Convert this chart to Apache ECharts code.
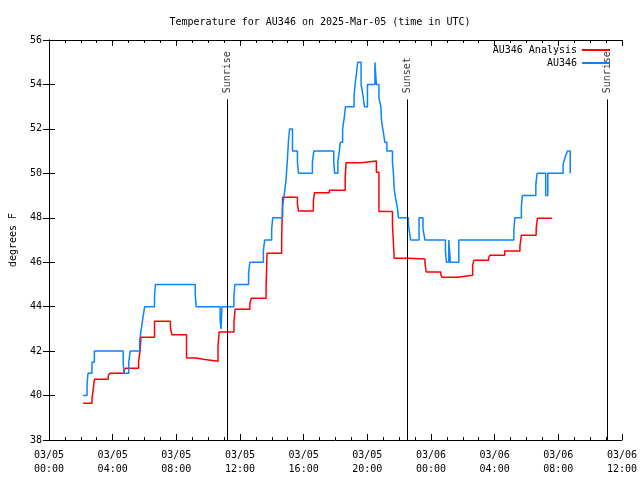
<!DOCTYPE html>
<html><head><meta charset="utf-8">
<script src="https://cdn.jsdelivr.net/npm/echarts@6/dist/echarts.min.js"></script>
<style>html,body{margin:0;padding:0;background:#fff}#c{width:640px;height:480px}</style>
</head><body><div id="c"></div>
<script>
const titleText = 'Temperature for AU346 on 2025-Mar-05 (time in UTC)';
const obsName = 'AU346';
const anaName = 'AU346 Analysis';
const yName = 'degrees F';
const xTickDays = ['03/05','03/05','03/05','03/05','03/05','03/05','03/06','03/06','03/06','03/06'];
const xTickHours = ['00:00','04:00','08:00','12:00','16:00','20:00','00:00','04:00','08:00','12:00'];

// hours since 03/05 00:00 UTC
const obsHours = [2.14,2.39,2.45,2.70,2.85,4.66,4.72,5.01,5.10,5.70,5.80,5.90,6.01,6.63,6.69,9.19,9.25,10.75,10.81,10.87,11.62,11.68,12.54,12.62,13.47,13.55,13.99,14.06,14.68,14.77,14.83,14.89,14.97,15.05,15.12,15.30,15.61,15.68,16.55,16.64,17.89,17.95,18.15,18.24,18.30,18.45,18.55,18.63,19.17,19.23,19.32,19.40,19.61,19.73,19.82,20.01,20.48,20.57,20.73,20.85,20.90,21.02,21.10,21.23,21.58,21.65,21.69,21.77,21.88,21.96,22.58,22.66,22.72,23.25,23.50,23.62,24.91,24.97,25.12,25.22,25.75,29.21,29.27,29.68,29.74,30.59,30.67,31.21,31.34,32.30,32.38,32.46,32.58,32.75];
const obsTemps = [40.0,40.5,41.0,41.5,42.0,41.5,41.0,41.5,42.0,42.5,43.0,43.5,44.0,44.5,45.0,44.5,44.0,43.4,43.0,44.0,44.5,45.0,45.5,46.0,46.5,47.0,47.5,48.0,48.5,49.0,49.3,49.7,50.5,51.5,52.0,51.0,50.5,50.0,50.5,51.0,50.5,50.0,50.5,51.0,51.4,52.0,52.5,53.0,53.5,54.0,54.5,55.0,54.0,53.5,53.0,54.0,55.0,54.0,53.4,53.0,52.3,51.8,51.4,51.0,50.5,49.9,49.3,48.9,48.5,48.0,47.7,47.3,47.0,48.0,47.5,47.0,46.5,46.0,47.0,46.0,47.0,47.5,48.0,48.5,49.0,49.5,50.0,49.0,50.0,50.4,50.6,50.8,51.0,50.0];

const anaHours = [2.14,2.70,2.78,2.85,3.72,3.81,4.72,4.80,5.63,5.72,5.78,6.63,7.63,7.72,8.64,9.25,9.69,10.62,10.69,11.62,11.69,12.62,12.71,13.64,13.70,14.62,14.68,15.61,15.68,16.61,16.68,17.61,18.61,18.67,19.61,20.57,20.73,21.58,21.69,22.60,23.62,23.70,24.62,24.70,25.66,26.62,26.70,27.62,27.70,28.63,29.59,29.68,30.61,30.69,31.61];
const anaTemps = [39.65,39.86,40.28,40.73,40.88,41.0,41.12,41.23,41.52,42.0,42.62,43.34,43.04,42.74,41.69,41.63,41.54,42.2,42.86,43.3,43.88,44.15,44.38,44.9,46.4,47.08,48.92,48.6,48.3,48.73,49.13,49.24,49.85,50.48,50.56,50.05,48.28,47.7,46.18,46.15,45.98,45.56,45.44,45.32,45.41,45.86,46.09,46.2,46.31,46.5,46.73,47.21,47.51,47.98,47.98];

const eventHours = [11.2, 22.5, 35.1];
const eventNames = ['Sunrise', 'Sunset', 'Sunrise'];
const eventLineTop = 53.33;
const eventLabelAt = 53.6;

const FONT = 'DejaVu Sans Mono';
const BLACK = '#000';
const RED = '#ff0000';
const BLUE = '#0a84ff';

function xLabel(v) {
  const i = Math.round(v / 4);
  return xTickDays[i] + '\n' + xTickHours[i];
}

const axisCommonX = {
  type: 'value', min: 0, max: 36, interval: 4,
  axisLine: {show: true, lineStyle: {color: BLACK, width: 1}},
  axisTick: {show: true, inside: true, length: 6, lineStyle: {color: BLACK}},
  minorTick: {show: true, splitNumber: 4, length: 3, lineStyle: {color: BLACK}},
  splitLine: {show: false}, minorSplitLine: {show: false}
};
const axisCommonY = {
  type: 'value', min: 38, max: 56, interval: 2,
  axisLine: {show: true, lineStyle: {color: BLACK, width: 1}},
  axisTick: {show: true, inside: true, length: 6, lineStyle: {color: BLACK}},
  splitLine: {show: false}
};

const legendCommon = {padding: 0, align: 'right', itemWidth: 28, itemHeight: 2, icon: 'rect',
  selectedMode: false, textStyle: {fontFamily: FONT, fontSize: 10, color: BLACK}};

const chart = echarts.init(document.getElementById('c'), null, {renderer: 'canvas'});
chart.setOption({
  animation: false,
  backgroundColor: '#fff',
  title: {text: titleText, left: 'center', top: 12,
    textStyle: {fontFamily: FONT, fontSize: 10, fontWeight: 'normal', color: BLACK}},
  legend: [
    Object.assign({data: [anaName], right: 30, top: 45}, legendCommon),
    Object.assign({data: [obsName], right: 30, top: 58}, legendCommon)
  ],
  grid: {left: 45, right: 18, top: 40, bottom: 40},
  xAxis: [
    Object.assign({}, axisCommonX, {position: 'bottom',
      axisLabel: {formatter: xLabel, fontFamily: FONT, fontSize: 10, color: BLACK, margin: 8, lineHeight: 14}}),
    Object.assign({}, axisCommonX, {position: 'top', axisLabel: {show: false}})
  ],
  yAxis: [
    Object.assign({}, axisCommonY, {position: 'left', name: yName, nameLocation: 'middle', nameGap: 31,
      nameTextStyle: {fontFamily: FONT, fontSize: 10, color: BLACK},
      axisLabel: {fontFamily: FONT, fontSize: 10, color: BLACK, margin: 7}}),
    Object.assign({}, axisCommonY, {position: 'right', axisLabel: {show: false}})
  ],
  series: [
    {
      name: anaName, type: 'line', step: 'end', symbol: 'none', showSymbol: false,
      xAxisIndex: 0, yAxisIndex: 0,
      itemStyle: {color: RED}, lineStyle: {color: RED, width: 1.5},
      data: anaHours.map((h, i) => [h, anaTemps[i]])
    },
    {
      name: obsName, type: 'line', step: 'end', symbol: 'none', showSymbol: false,
      xAxisIndex: 0, yAxisIndex: 0,
      itemStyle: {color: BLUE}, lineStyle: {color: BLUE, width: 1.5},
      data: obsHours.map((h, i) => [h, obsTemps[i]])
    },
    {
      name: 'events', type: 'scatter', xAxisIndex: 0, yAxisIndex: 0,
      symbolSize: 0, itemStyle: {color: 'rgba(0,0,0,0)'}, silent: true,
      label: {show: true, formatter: '{b}', position: 'inside', align: 'left', verticalAlign: 'middle',
        rotate: 90, fontFamily: FONT, fontSize: 10, color: BLACK},
      labelLayout: {hideOverlap: false},
      data: eventHours.map((h, i) => ({name: eventNames[i], value: [h, eventLabelAt]})),
      markLine: {
        silent: true, symbol: 'none', animation: false,
        lineStyle: {color: BLACK, width: 1, type: 'solid'},
        label: {show: false},
        data: eventHours.map(h => [{coord: [h, 38]}, {coord: [h, eventLineTop]}])
      }
    }
  ]
});
</script>
</body></html>
